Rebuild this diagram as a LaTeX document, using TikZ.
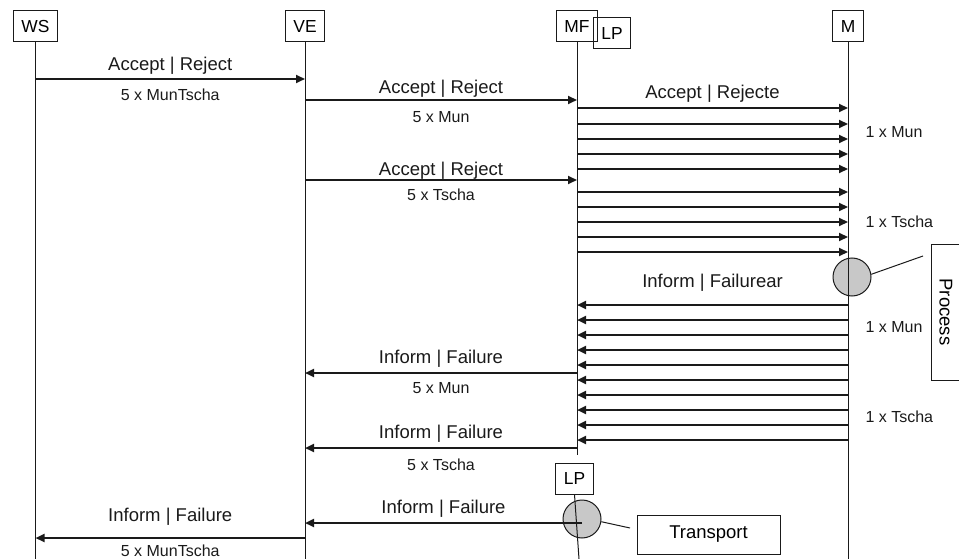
\documentclass[tikz,border=0pt]{standalone}
\usepackage{fontspec}
\setmainfont{Liberation Sans}
\usetikzlibrary{arrows.meta,calc,positioning}
\definecolor{Ink}{HTML}{1A1A1A}
\definecolor{Knob}{HTML}{C8C8C8}
\tikzset{
  actor/.style={
    draw=Ink, line width=1pt, minimum height=31pt, inner xsep=8pt,
    font=\fontsize{17.4}{20}\selectfont
  },
  lifeline/.style={draw=Ink, line width=1pt},
  msg/.style={-{Triangle[length=9pt,width=8pt]}, line width=2.2pt, draw=Ink},
  msglabel/.style={font=\fontsize{18.5}{21}\selectfont, text=Ink},
  countlabel/.style={font=\fontsize{16}{19}\selectfont, text=Ink},
  knob/.style={
    circle, draw=Ink, line width=1pt, fill=Knob,
    minimum size=38pt, inner sep=0pt
  },
  notebox/.style={draw=Ink, line width=1pt, font=\fontsize{18.5}{21}\selectfont}
}

\begin{document}
\begin{tikzpicture}[x=1pt,y=-1pt]
  \useasboundingbox (0,0) rectangle (959,559);
  % heads
  \node[actor] (ws) at (35.5,26.5) {WS};
  \node[actor] (ve) at (305,26.5) {VE};
  \node[actor] (mf) at (577,26.5) {MF};
  \node[actor] (lptop) at (612,33.5) {LP};
  \node[actor] (m) at (848,26.5) {M};
  \node[actor] (lpbot) at (574.5,478.5) {LP};
  \coordinate (bottom) at (0,559);
  \coordinate (mfend) at (0,455);
  \coordinate (lpfoot) at (579,559);

  % circles and notes
  \node[knob] (procknob) at (852,277) {};
  \node[knob] (trknob) at (582,519) {};
  \node[notebox, rotate=-90, minimum width=136pt, minimum height=30pt]
    (procnote) at (946,312) {Process};
  \node[notebox, minimum width=143pt, minimum height=39pt]
    (trnote) at (708.5,534.5) {Transport};
  \coordinate (proctip) at (923,256);
  \coordinate (trtip) at (630,528);
  \draw[lifeline] (procknob.8) -- (proctip);
  \draw[lifeline] (trknob.-8) -- (trtip);

  % lifelines
  \draw[lifeline] (ws.south) -- (ws |- bottom);
  \draw[lifeline] (ve.south) -- (ve |- bottom);
  \draw[lifeline] (mf.south) -- (mf |- mfend);
  \draw[lifeline] (m.south) -- (m |- bottom);
  \draw[lifeline] (lpbot.south) -- (lpfoot);

  % requests
  \draw[msg] (ws |- 0,79) -- node[msglabel, above=0pt] {Accept | Reject}
    node[countlabel, below=5.5pt] {5 x MunTscha} (ve |- 0,79);
  \draw[msg] (ve |- 0,100) -- node[msglabel, above=-2pt] {Accept | Reject}
    node[countlabel, below=7.5pt] {5 x Mun} (mf |- 0,100);
  \draw[msg] (ve |- 0,180) -- node[msglabel, above=-4pt] {Accept | Reject}
    node[countlabel, below=4.5pt] {5 x Tscha} (mf |- 0,180);
  \draw[msg] (mf |- 0,108) -- node[msglabel, above=1pt] {Accept | Rejecte} (m |- 0,108);
  \foreach \y in {124,139,154,169,192,207,222,237,252}
    \draw[msg] (mf |- 0,\y) -- (m |- 0,\y);
  \node[countlabel, anchor=west] (munreq) at (862,132) {1 x Mun};
  \node[countlabel, anchor=west] (tschareq) at (862,222) {1 x Tscha};

  % replies
  \draw[msg] (m |- 0,305) -- node[msglabel, above=9pt] {Inform | Failurear} (mf |- 0,305);
  \foreach \y in {320,335,...,440}
    \draw[msg] (m |- 0,\y) -- (mf |- 0,\y);
  \node[countlabel, anchor=west] (munrep) at (862,327) {1 x Mun};
  \node[countlabel, anchor=west] (tscharep) at (862,417) {1 x Tscha};
  \draw[msg] (mf |- 0,373) -- node[msglabel, above=1pt] {Inform | Failure}
    node[countlabel, below=5pt] {5 x Mun} (ve |- 0,373);
  \draw[msg] (mf |- 0,448) -- node[msglabel, above=1pt] {Inform | Failure}
    node[countlabel, below=6pt] {5 x Tscha} (ve |- 0,448);
  \draw[msg] (trknob.center |- 0,523) -- node[msglabel, above=1pt] {Inform | Failure} (ve |- 0,523);
  \draw[msg] (ve |- 0,538) -- node[msglabel, above=8pt] {Inform | Failure}
    node[countlabel, below=2.5pt] {5 x MunTscha} (ws |- 0,538);
\end{tikzpicture}
\end{document}
